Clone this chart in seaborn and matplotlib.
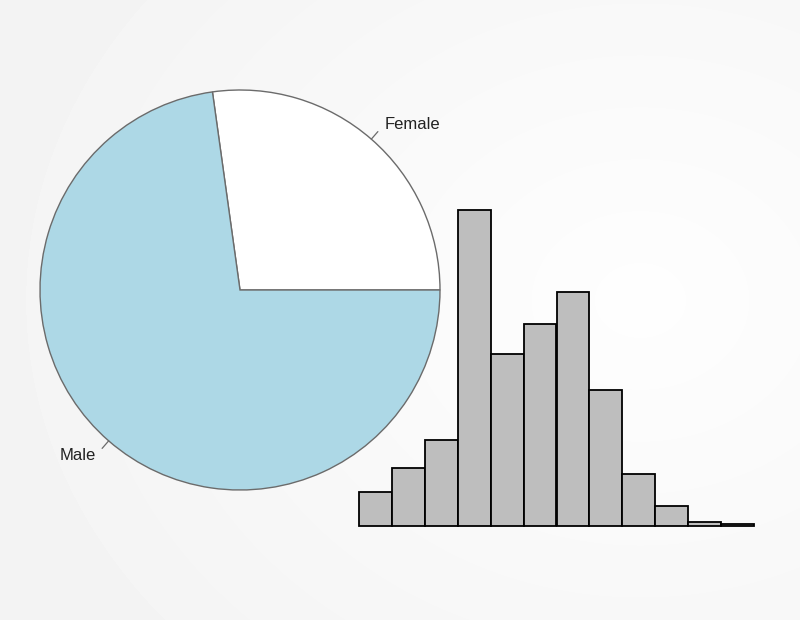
import matplotlib
matplotlib.use("Agg")
import matplotlib.pyplot as plt
import numpy as np
import seaborn as sns

# pie data
sex_labels = ["Female", "Male"]
sex_share = [27.2, 72.8]
pie_colors = ["white", "#ADD8E6"]

# histogram data (bin edges and counts)
bin_edges = [15, 20, 25, 30, 35, 40, 45, 50, 55, 60, 65, 70, 75]
bin_counts = [17, 29, 43, 158, 86, 101, 117, 68, 26, 10, 2, 1]

sns.set_theme(style="white")
plt.rcParams["font.family"] = ["Liberation Sans", "DejaVu Sans"]

fig = plt.figure(figsize=(8, 6.2), dpi=100)

# soft grey/white background
bg = fig.add_axes([0, 0, 1, 1])
yy, xx = np.mgrid[0:620, 0:800]
d = np.sqrt(((xx - 640) / 560.0) ** 2 + ((yy - 300) / 460.0) ** 2)
shade = 0.995 - 0.045 * np.clip(d, 0, 1.3) / 1.3
bg.imshow(shade, cmap="gray", vmin=0, vmax=1, aspect="auto")
bg.axis("off")

# pie
ax_pie = fig.add_axes([40 / 800, (620 - 490) / 620, 400 / 800, 400 / 620])
wedges, texts = ax_pie.pie(sex_share, labels=sex_labels, colors=pie_colors,
                           startangle=0, counterclock=True, labeldistance=1.1,
                           wedgeprops=dict(edgecolor="#6b6b6b", linewidth=1.0),
                           textprops=dict(fontsize=12, color="#222222"))
for w in wedges:
    mid = np.deg2rad((w.theta1 + w.theta2) / 2)
    ax_pie.plot([np.cos(mid), 1.05 * np.cos(mid)], [np.sin(mid), 1.05 * np.sin(mid)],
                color="#6b6b6b", lw=0.9)
ax_pie.set_xlim(-1, 1)
ax_pie.set_ylim(-1, 1)
ax_pie.set_aspect("equal")
ax_pie.axis("off")

# histogram
centers = [(a + b) / 2 for a, b in zip(bin_edges[:-1], bin_edges[1:])]
ax_h = fig.add_axes([359 / 800, (620 - 526) / 620, 395 / 800, 316 / 620])
ax_h.patch.set_alpha(0)
sns.histplot(x=centers, weights=bin_counts, bins=bin_edges, color="#BEBEBE",
             edgecolor="black", linewidth=1.3, alpha=1, ax=ax_h)
for p in ax_h.patches:
    p.set_clip_on(False)
ax_h.set_xlim(bin_edges[0], bin_edges[-1])
ax_h.set_ylim(0, max(bin_counts))
ax_h.axis("off")

fig.savefig("out.png", dpi=100)
